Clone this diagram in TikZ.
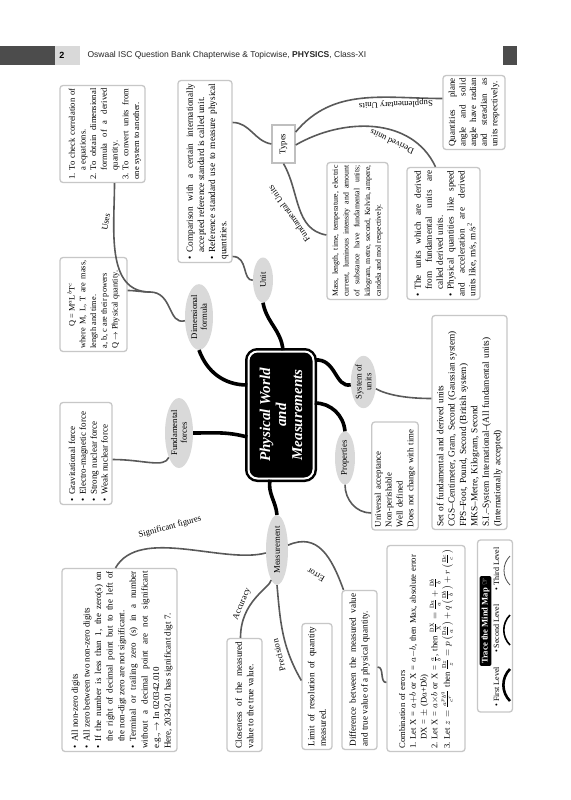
\documentclass[tikz,border=0pt]{standalone}
\usepackage{fontspec}
\usepackage{amsmath}
\usepackage{xcolor}
\usetikzlibrary{shapes.geometric}
\setmainfont{Liberation Serif}
\newfontfamily\headfont{Liberation Sans}
\newfontfamily\symfont{DejaVu Sans}
\tolerance=10000 \hbadness=10000 \hyphenpenalty=10000 \exhyphenpenalty=10000
\setlength\parindent{0pt}
\newcommand\fs[2]{\fontsize{#1}{#2}\selectfont}
\newcommand\bul{\par\noindent\hangindent=7pt\hangafter=1\hbox to 7pt{\textbullet\hfil}\ignorespaces}
\newcommand\numitem[1]{\par\noindent\hangindent=9pt\hangafter=1\hbox to 9pt{#1\hfil}\ignorespaces}

\begin{document}
\begin{tikzpicture}[x=1pt, y=1pt,
    % Estilos para no repetir codigo
    caja/.style={rotate=90, draw=black!22, line width=1.3pt, fill=white, rounded corners=3pt, inner sep=3pt, align=justify},
    rama/.style={rotate=90, ellipse, fill=black!15, inner sep=1pt, align=center, font=\fs{8.7}{9.7}},
    centro/.style={rotate=90, draw=black, double=white, double distance=2pt, line width=2.5pt, fill=black,
      rounded corners=9pt, text=white, align=center, font=\bfseries\itshape\fs{15}{16},
      minimum width=127pt, minimum height=65pt},
    etiqueta/.style={font=\fs{8.7}{9}, inner sep=1pt},
    principal/.style={line width=3.6pt, black},
    secundaria/.style={line width=1.6pt, black!65}
  ]

  \fill[white] (0,0) rectangle (570,-800);
  \useasboundingbox (0,0) rectangle (570,-800);

  % 1. Encabezado de la pagina
  \fill[black!70] (0,-46) rectangle (55,-65);
  \fill[black!15] (55,-46) rectangle (80,-65);
  \fill[black!70] (503,-46) rectangle (517,-65);
  \node[font=\headfont\bfseries\fs{9}{10}] (pagina) at (62,-55.5) {2};
  \node[anchor=west, font=\headfont\fs{8.5}{10}, text=black!85] (titulo) at (84,-55.5)
    {Oswaal ISC Question Bank Chapterwise \& Topicwise, \textbf{PHYSICS}, Class-XI};

  % 2. Nodo central
  \node[centro] (pwm) at (281,-415) {Physical World\\and\\Measurements};

  % 3. Ramas del segundo nivel
  \node[rama, minimum width=45pt, minimum height=20pt] (unit) at (263,-280) {Unit};
  \node[rama, minimum width=60pt, minimum height=28pt] (dimf) at (199,-317) {Dimensional\\formula};
  \node[rama, minimum width=70pt, minimum height=28pt] (forces) at (179,-433) {Fundamental\\forces};
  \node[rama, minimum width=68pt, minimum height=22pt] (meas) at (277,-550) {Measurement};
  \node[rama, minimum width=53pt, minimum height=20pt] (props) at (345,-458) {Properties};
  \node[rama, minimum width=50pt, minimum height=24pt] (sysu) at (363.5,-382) {System of\\units};

  % 4. Cajas del tercer nivel
  \node[caja, text width=176pt, minimum height=54pt, font=\fs{9.3}{11.2}] (udef) at (205,-171.5)
    {\bul Comparison with a certain internationally\linebreak accepted reference standard is called unit.%
     \bul Reference standard use to measure physical\linebreak quantities.};
  \node[rotate=90, draw=black!25, line width=1.3pt, fill=white, minimum width=38pt, minimum height=23pt,
    font=\fs{8.7}{9}] (types) at (283.5,-144) {Types};
  \node[caja, text width=68pt, minimum height=62pt, font=\fs{9}{10.6}] (suppl) at (474,-112.5)
    {Quantities plane\linebreak angle and solid\linebreak angle have radian\linebreak and steradian as\linebreak units respectively.};
  \node[caja, text width=126pt, minimum height=73pt, font=\fs{9.2}{10.9}] (derived) at (443.5,-233.5)
    {\bul The units which are derived\linebreak from fundamental units are\linebreak called derived units.%
     \bul Physical quantities like speed\linebreak and acceleration are derived\linebreak units like, m/s, m/s\textsuperscript{2}};
  \node[caja, text width=131pt, minimum height=61pt, font=\fs{7.8}{10.8}] (fundu) at (357.5,-231)
    {Mass, length, time, temperature, electric\linebreak current, luminous intensity and amount\linebreak
     of substance have fundamental units;\linebreak kilogram, metre, second, Kelvin, ampere,\linebreak candela and mol respectively.};
  \node[caja, text width=88pt, minimum height=67pt, font=\fs{8.3}{10.8}] (qform) at (93.5,-304.5)
    {{\centering Q = M$^a$L$^b$T$^c$\par}where M, L, T are mass,\linebreak length and time.\par
     a, b, c are their powers\par Q $\rightarrow$ Physical quantity.};
  \node[caja, text width=91pt, minimum height=85pt, font=\fs{8.6}{10.7}] (uses) at (102.5,-134)
    {\numitem{1.}To check correlation of\linebreak a equations.%
     \numitem{2.}To obtain dimensional\linebreak formula of a derived\linebreak quantity.%
     \numitem{3.}To convert units from\linebreak one system to another.};
  \node[caja, text width=96pt, minimum height=52pt, font=\fs{9}{10.9}] (forcelist) at (86,-453.5)
    {\bul Gravitational force\bul Electro-magnetic force\bul Strong nuclear force\bul Weak nuclear force};
  \node[caja, text width=177pt, minimum height=115pt, font=\fs{9}{11.6}] (sigfig) at (119.5,-660)
    {\bul All non-zero digits\bul All zero between two non-zero digits%
     \bul If the number is less than 1, the zero(s) on\linebreak the right of decimal point but to the left of\linebreak
     the non-digt zero are not significant.%
     \bul Terminal or trailing zero (s) in a number\linebreak without a decimal point are not significant\linebreak
     e.g., $\rightarrow$ In 020342.010\newline Here, 20342.01 has significant digt 7.};
  \node[caja, text width=107pt, minimum height=35pt, font=\fs{9.2}{11.6}] (accbox) at (244.5,-695)
    {Closeness of the measured\linebreak value to the true value.};
  \node[caja, text width=120pt, minimum height=30pt, font=\fs{9.2}{11.4}] (precbox) at (317,-686.5)
    {Limit of resolution of quantity\linebreak measured.};
  \node[caja, text width=153pt, minimum height=35pt, font=\fs{9.2}{11.6}] (errbox) at (359.5,-670)
    {Difference between the measured value\linebreak and true value of a physical quantity.};
  \node[caja, align=left, text width=200pt, minimum height=78pt, font=\fs{8.6}{10.8}] (combbox) at (426,-648.5)
    {Combination of errors\par
     \numitem{1.}Let X = $a{+}b$ or X = $a{-}b$, then Max, absolute error\newline DX = $\pm$ (D$a$+D$b$)\par
     \numitem{2.}Let X = $a{\times}b$ or X = $\frac{a}{b}$, then
       $\frac{\mathrm{DX}}{\mathrm{X}}=\frac{\mathrm{D}a}{a}+\frac{\mathrm{D}b}{b}$\par
     \numitem{3.}Let $z=\frac{a^pb^q}{c^r}$ then
       $\frac{\mathrm{D}z}{z}=p\left(\frac{\mathrm{D}a}{a}\right)+q\left(\frac{\mathrm{D}b}{b}\right)+r\left(\frac{\mathrm{D}c}{c}\right)$};
  \node[caja, align=left, text width=102pt, minimum height=44pt, font=\fs{8.8}{10.8}] (propbox) at (395,-476)
    {Universal acceptance\\Non-perishable\\Well defined\\Does not change with time};
  \node[caja, align=left, text width=208pt, minimum height=75pt, font=\fs{9.3}{11.4}] (sysbox) at (469.5,-422.5)
    {Set of fundamental and derived units\\CGS--Centimeter, Gram, Second (Gaussian system)\\
     FPS--Foot, Pound, Second (British system)\\MKS--Metre, Kilogram, Second\\
     S.I.--System International--(All fundamental units)\\(Internationally accepted)};

  % 5. Recuadro de la leyenda
  \node[rotate=90, draw=black!22, line width=1.3pt, fill=white, rounded corners=3pt,
    minimum width=172pt, minimum height=35pt] (trace) at (495,-626) {};
  \node[rotate=90, fill=black, text=white, rounded corners=2pt, inner sep=2pt, font=\bfseries\fs{8.6}{9}]
    (tracetitle) at (485.5,-621) {Trace the Mind Map {\symfont ☞}};
  \node[rotate=90, font=\fs{8}{9}] (tracelevels) at (496.5,-627)
    {\textbullet\ First Level\hspace{14pt}\textbullet\ Second Level\hspace{14pt}\textbullet\ Third Level};
  \draw[line width=2.6pt] (510,-701) to[bend left=45] (510,-669);
  \draw[line width=1.6pt] (510,-645) to[bend left=45] (510,-615);
  \draw[line width=0.8pt, black!70] (510,-585) to[bend left=45] (510,-556);

  % 6. Conexiones principales (nivel 1 a nivel 2)
  \draw[principal] ([xshift=2pt]pwm.east) to[out=95,in=-80] (unit.west);
  \draw[principal] ([yshift=30pt]pwm.north) to[out=180,in=-70] (dimf.west);
  \draw[principal] ([yshift=-22pt]pwm.north) to[out=165,in=0] (forces.south);
  \draw[principal] ([xshift=-11pt]pwm.west) to[out=-100,in=95] (meas.east);
  \draw[principal] ([yshift=12pt]pwm.south) to[out=0,in=95] (props.east);
  \draw[principal] ([yshift=55pt]pwm.south) to[out=5,in=150] (sysu);

  % 7. Conexiones secundarias (nivel 2 a nivel 3)
  \draw[secundaria] (unit) to[out=140,in=0] ([yshift=-85pt]udef.south);
  \draw[secundaria] ([yshift=49pt]udef.south) to[out=0,in=170] (types.north);
  \draw[secundaria] ([yshift=12pt]types.south) to[out=50,in=180] ([yshift=14pt]suppl.north);
  \draw[secundaria] ([yshift=-1pt]types.south) to[out=30,in=115] ([xshift=-8pt]derived.east);
  \draw[secundaria] (types.west) to[out=-60,in=170] ([yshift=-4pt]fundu.north);
  \coordinate (dimj) at (150,-292);
  \draw[secundaria] ([yshift=14pt]qform.south) to[out=0,in=180] (dimj) to[out=0,in=150] (dimf);
  \draw[secundaria] ([xshift=12pt]uses.west) to[out=-90,in=180] (dimj);
  \draw[secundaria] ([yshift=-6pt]forcelist.south) to[out=0,in=210] (forces);
  \draw[secundaria] (meas) to[out=165,in=60,looseness=0.8] ([xshift=-4pt]sigfig.east);
  \draw[secundaria] (meas) to[out=-120,in=90] ([xshift=-4pt]accbox.east);
  \draw[secundaria] (meas.west) to[out=-85,in=120] ([yshift=6pt]precbox.north);
  \draw[secundaria] (meas) to[out=-15,in=110] ([xshift=-16pt]errbox.east);
  \draw[secundaria] ([yshift=3pt]errbox.south) to[out=0,in=180] ([yshift=-34pt]combbox.north);
  \draw[secundaria] (props.west) to[out=-90,in=180] ([yshift=-37pt]propbox.north);
  \draw[secundaria] (sysu) to[out=-60,in=180] ([yshift=24pt]sysbox.north);

  % 8. Etiquetas sobre las conexiones
  \node[etiqueta, rotate=182] (lsupl) at (396,-104) {Supplementary Units};
  \node[etiqueta, rotate=155] (lder) at (392,-142) {Derived units};
  \node[etiqueta, rotate=125] (lfund) at (289,-214) {Fundamental Units};
  \node[etiqueta, rotate=80] (luses) at (106,-222) {Uses};
  \node[etiqueta, rotate=15] (lsig) at (170,-527) {Significant figures};
  \node[etiqueta, rotate=67] (lacc) at (242,-604) {Accuracy};
  \node[etiqueta, rotate=104] (lprec) at (279,-655) {Precision};
  \node[etiqueta, rotate=150] (lerr) at (316,-575) {Error};

\end{tikzpicture}
\end{document}
